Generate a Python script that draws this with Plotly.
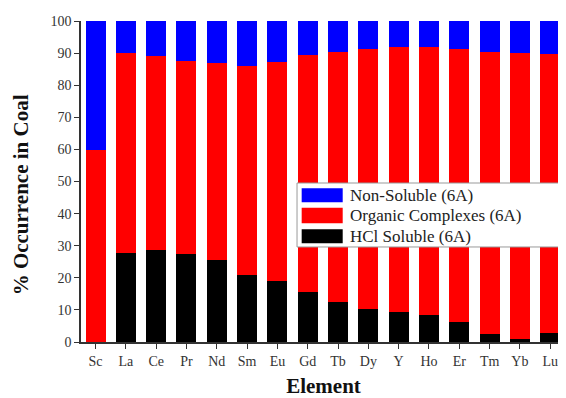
import plotly.graph_objects as go

elements = ["Sc", "La", "Ce", "Pr", "Nd", "Sm", "Eu", "Gd", "Tb", "Dy", "Y", "Ho", "Er", "Tm", "Yb", "Lu"]
hcl_soluble = [0.0, 27.6, 28.7, 27.3, 25.5, 21.0, 18.9, 15.7, 12.4, 10.3, 9.3, 8.3, 6.1, 2.5, 1.0, 2.9]
organic = [59.7, 62.3, 60.5, 60.3, 61.4, 65.1, 68.3, 73.7, 78.0, 81.1, 82.7, 83.5, 85.1, 87.9, 88.9, 86.7]
non_soluble = [40.3, 10.1, 10.8, 12.4, 13.1, 13.9, 12.8, 10.6, 9.6, 8.6, 8.0, 8.2, 8.8, 9.6, 10.1, 10.4]

series_names = ["Non-Soluble (6A)", "Organic Complexes (6A)", "HCl Soluble (6A)"]
series_colors = ["#0000ff", "#ff0000", "#000000"]

font_family = "Liberation Serif, Times New Roman, serif"

fig = go.Figure()
fig.add_trace(go.Bar(x=elements, y=hcl_soluble, name=series_names[2],
                     marker=dict(color=series_colors[2], line=dict(width=0)), width=0.66))
fig.add_trace(go.Bar(x=elements, y=organic, name=series_names[1],
                     marker=dict(color=series_colors[1], line=dict(width=0)), width=0.66))
fig.add_trace(go.Bar(x=elements, y=non_soluble, name=series_names[0],
                     marker=dict(color=series_colors[0], line=dict(width=0)), width=0.66))

# Legend drawn as a boxed key (wide swatches like the original)
shapes = [dict(type="rect", xref="paper", yref="paper", x0=0.4454, x1=0.9876, y0=0.296, y1=0.4953,
               line=dict(color="#999999", width=1), fillcolor="white", layer="above")]
annotations = []
swatch_rows = [(0.4788, 0.4352, 0.457), (0.4184, 0.3698, 0.3941), (0.3511, 0.3075, 0.3293)]
for (ytop, ybot, ytext), name, col in zip(swatch_rows, series_names, series_colors):
    shapes.append(dict(type="rect", xref="paper", yref="paper", x0=0.455, x1=0.5396, y0=ybot, y1=ytop,
                       line=dict(width=0), fillcolor=col, layer="above"))
    annotations.append(dict(text=name, xref="paper", yref="paper", x=0.5505, y=ytext,
                            xanchor="left", yanchor="middle", showarrow=False,
                            font=dict(size=17, family=font_family, color="#222222")))

annotations.append(dict(text="<b>% Occurrence in Coal</b>", xref="paper", yref="paper",
                        x=-0.124, y=0.4595, xanchor="center", yanchor="middle", textangle=-90,
                        showarrow=False, font=dict(size=21, family=font_family, color="#111111")))

# The page has an 8px body margin, so the figure is sized to fill the rest of the window.
fig.update_layout(
    barmode="stack",
    width=558, height=390,
    margin=dict(l=73, r=0, t=13, b=56),
    paper_bgcolor="white", plot_bgcolor="white",
    font=dict(family=font_family, color="#333333", size=14),
    showlegend=False,
    shapes=shapes,
    annotations=annotations,
    xaxis=dict(
        range=[-0.48, 15.52],
        showline=True, linecolor="#333333", linewidth=1.5,
        ticks="outside", ticklen=5, tickcolor="#333333",
        tickfont=dict(size=14),
        title=dict(text="<b>Element</b>", font=dict(size=21, family=font_family, color="#111111"), standoff=13),
        showgrid=False, zeroline=False,
    ),
    yaxis=dict(
        range=[0, 100], dtick=10,
        showline=True, linecolor="#333333", linewidth=1.5,
        ticks="outside", ticklen=5, tickcolor="#333333",
        tickfont=dict(size=14),
        showgrid=False, zeroline=False,
    ),
)

fig.write_html("out.html")
